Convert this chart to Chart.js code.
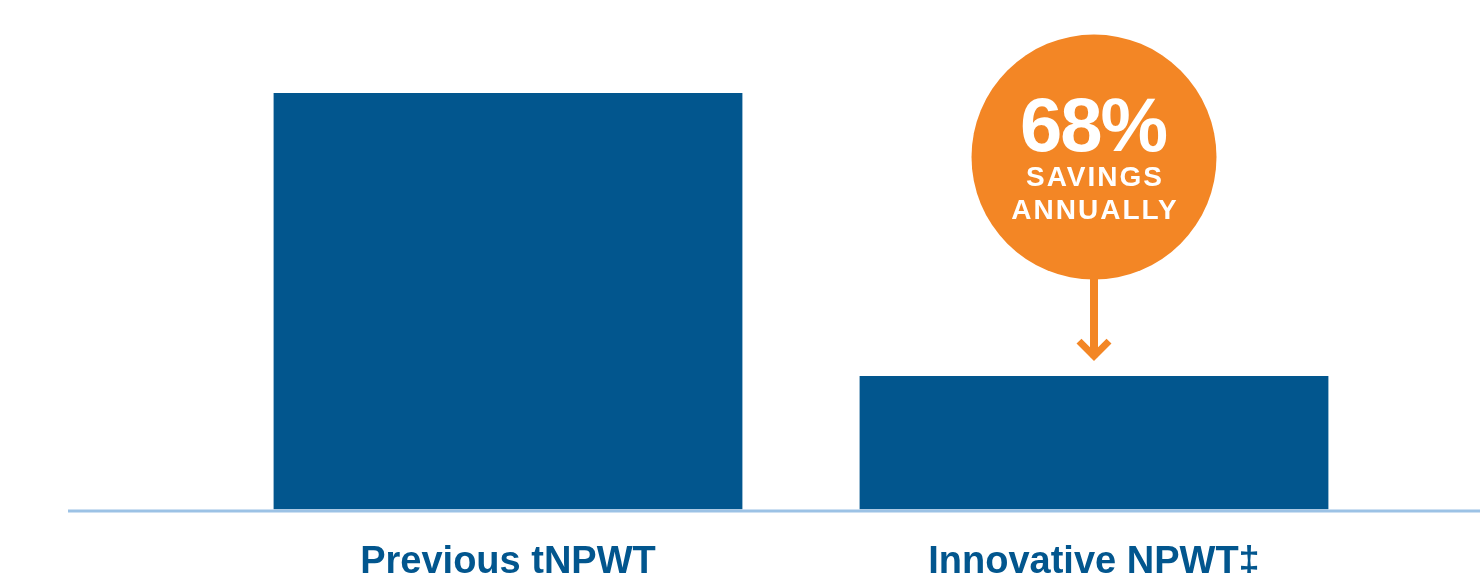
<!DOCTYPE html>
<html>
<head>
<meta charset="utf-8">
<script src="https://cdn.jsdelivr.net/npm/chart.js@4"></script>
<style>
  html, body { margin: 0; padding: 0; background: #ffffff; overflow: hidden; }
  #wrap { width: 1480px; height: 573px; }
</style>
</head>
<body>
<div id="wrap"><canvas id="costChart" width="1480" height="573"></canvas></div>
<script>
  // chart data
  const categories = ['Previous tNPWT', 'Innovative NPWT\u2021'];
  const relativeCost = [100, 32];
  const savingsPct = '68%';
  const calloutLines = ['SAVINGS', 'ANNUALLY'];

  const BAR_BLUE = '#02568e';
  const ORANGE = '#f38625';
  const AXIS_BLUE = '#9cc2e5';
  const FONT = '"Liberation Sans", Arial, Helvetica, sans-serif';

  // light blue baseline that runs past the bars, plus the orange callout
  const annotations = {
    id: 'annotations',
    afterDatasetsDraw(chart) {
      const ctx = chart.ctx;
      const yScale = chart.scales.y;
      const baseY = yScale.getPixelForValue(0) + 1.5;

      ctx.save();
      ctx.strokeStyle = AXIS_BLUE;
      ctx.lineWidth = 3;
      ctx.beginPath();
      ctx.moveTo(68, baseY);
      ctx.lineTo(chart.width, baseY);
      ctx.stroke();

      const bar = chart.getDatasetMeta(0).data[1];
      const cx = bar.x;
      const cy = yScale.getPixelForValue(84.6);
      const r = 122.5;

      // arrow
      const tipY = bar.y - 15;
      ctx.strokeStyle = ORANGE;
      ctx.lineWidth = 8;
      ctx.beginPath();
      ctx.moveTo(cx, cy + r - 2);
      ctx.lineTo(cx, tipY - 4);
      ctx.stroke();
      ctx.lineWidth = 7;
      ctx.lineCap = 'butt';
      ctx.lineJoin = 'miter';
      ctx.beginPath();
      ctx.moveTo(cx - 15, tipY - 20);
      ctx.lineTo(cx, tipY - 5);
      ctx.lineTo(cx + 15, tipY - 20);
      ctx.stroke();

      // circle
      ctx.fillStyle = ORANGE;
      ctx.beginPath();
      ctx.arc(cx, cy, r, 0, Math.PI * 2);
      ctx.fill();

      ctx.fillStyle = '#ffffff';
      ctx.textAlign = 'center';
      ctx.textBaseline = 'alphabetic';
      ctx.font = 'bold 76px ' + FONT;
      if ('letterSpacing' in ctx) ctx.letterSpacing = '-2px';
      ctx.fillText(savingsPct, cx - 1, cy - 6);
      ctx.font = 'bold 28px ' + FONT;
      if ('letterSpacing' in ctx) ctx.letterSpacing = '2px';
      ctx.fillText(calloutLines[0], cx + 1, cy + 29);
      ctx.fillText(calloutLines[1], cx + 1, cy + 62);
      ctx.restore();
    }
  };

  const ctx = document.getElementById('costChart').getContext('2d');
  new Chart(ctx, {
    type: 'bar',
    data: {
      labels: categories,
      datasets: [{
        data: relativeCost,
        backgroundColor: BAR_BLUE,
        borderWidth: 0,
        barPercentage: 0.8,
        categoryPercentage: 1
      }]
    },
    options: {
      responsive: false,
      animation: false,
      devicePixelRatio: 1,
      layout: { padding: { left: 215, right: 93, top: 0, bottom: -42 } },
      plugins: {
        legend: { display: false },
        tooltip: { enabled: false }
      },
      scales: {
        x: {
          grid: { display: false, drawTicks: false },
          border: { display: false },
          ticks: {
            color: BAR_BLUE,
            padding: 30,
            font: { family: FONT, size: 38, weight: 'bold' }
          }
        },
        y: {
          display: false,
          min: 0,
          max: 122.3
        }
      }
    },
    plugins: [annotations]
  });
</script>
</body>
</html>
